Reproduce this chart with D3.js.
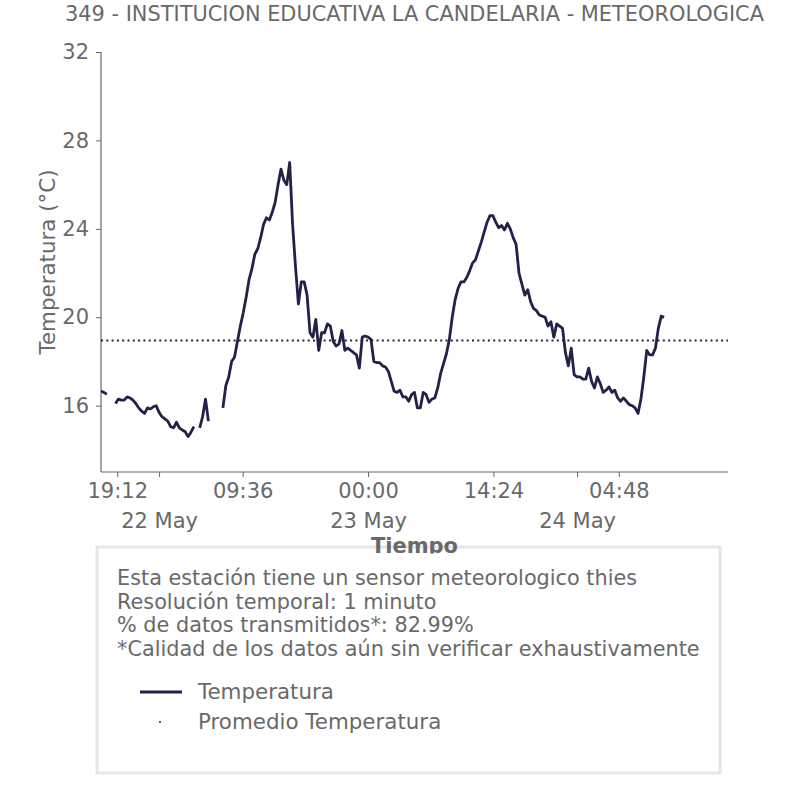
<!DOCTYPE html>
<html>
<head>
<meta charset="utf-8">
<script src="https://cdn.jsdelivr.net/npm/d3@7"></script>
<style>
  body { margin: 0; background: #fff; }
  text { font-family: "DejaVu Sans", sans-serif; fill: #696969; }
</style>
</head>
<body>
<svg class="chart"></svg>
<script>
// datos de la estacion (lectura cada 20 minutos, null = sin dato)
const titulo = "349 - INSTITUCION EDUCATIVA LA CANDELARIA - METEOROLOGICA";
const inicio = "2023-05-21T17:20";
const fin = "2023-05-24T17:20";
const pasoMin = 20;
const temperatura = [
  16.67, 16.6, 16.52, null, null, 16.1, 16.3, 16.25, 16.25, 16.4,
  16.35, 16.25, 16.1, 15.9, 15.75, 15.65, 15.9, 15.85, 15.95, 16.0,
  15.7, 15.5, 15.4, 15.3, 15.05, 15.0, 15.25, 15.0, 14.9, 14.82,
  14.6, 14.8, 15.05, null, 15.0, 15.5, 16.3, 15.3, null, null,
  null, null, 15.9, 16.9, 17.3, 18.0, 18.2, 18.9, 19.6, 20.2,
  20.9, 21.7, 22.2, 22.85, 23.1, 23.6, 24.2, 24.5, 24.4, 24.75,
  25.2, 26.0, 26.7, 26.2, 26.0, 27.0, 24.2, 22.3, 20.6, 21.6,
  21.6, 21.0, 19.3, 19.1, 19.9, 18.5, 19.3, 19.3, 19.7, 19.6,
  18.9, 18.7, 18.8, 19.4, 18.5, 18.6, 18.5, 18.4, 18.3, 17.7,
  19.1, 19.15, 19.1, 19.0, 18.0, 17.95, 17.95, 17.8, 17.75, 17.55,
  17.1, 16.65, 16.6, 16.7, 16.4, 16.4, 16.2, 16.5, 16.6, 15.9,
  15.9, 16.6, 16.5, 16.15, 16.3, 16.35, 16.8, 17.45, 17.9, 18.35,
  19.0, 20.0, 20.8, 21.3, 21.6, 21.6, 21.8, 22.1, 22.45, 22.6,
  23.0, 23.4, 23.85, 24.3, 24.6, 24.6, 24.3, 24.05, 24.15, 23.95,
  24.25, 24.0, 23.6, 23.3, 22.0, 21.5, 21.0, 21.25, 20.7, 20.4,
  20.3, 20.1, 20.05, 20.0, 19.6, 19.8, 19.1, 19.7, 19.6, 19.5,
  18.4, 17.8, 18.6, 17.4, 17.3, 17.3, 17.2, 17.2, 17.7, 17.1,
  16.8, 17.3, 17.0, 16.6, 16.7, 16.85, 16.6, 16.7, 16.35, 16.2,
  16.35, 16.2, 16.05, 16.0, 15.9, 15.65, 16.3, 17.3, 18.5, 18.3,
  18.3, 18.6, 19.5, 20.05, 20.0
];
const promedio = 18.95;
const ticksHora = ["2023-05-21T19:12", "2023-05-22T09:36", "2023-05-23T00:00",
                   "2023-05-23T14:24", "2023-05-24T04:48"];
const ticksDia = ["2023-05-22T00:00", "2023-05-23T00:00", "2023-05-24T00:00"];
const ticksTemp = [16, 20, 24, 28, 32];
const notas = [
  "Esta estación tiene un sensor meteorologico thies",
  "Resolución temporal: 1 minuto",
  "% de datos transmitidos*: 82.99%",
  "*Calidad de los datos aún sin verificar exhaustivamente"
];
const leyenda = ["Temperatura", "Promedio Temperatura"];

const W = 806, H = 806;
const margin = { top: 52, left: 101, right: 78, bottom: 334 };
const width = W - margin.left - margin.right,
      height = H - margin.top - margin.bottom;
const colorLinea = "#222249";
const gris = "#696969";

const parse = d3.utcParse("%Y-%m-%dT%H:%M");
const t0 = parse(inicio);
const datos = temperatura.map((v, i) => ({ t: d3.utcMinute.offset(t0, i * pasoMin), v: v }));

const svg = d3.select(".chart").attr("width", W).attr("height", H);

const x = d3.scaleUtc().domain([t0, parse(fin)]).range([0, width]);
const y = d3.scaleLinear().domain([13, 32]).range([height, 0]);

svg.append("text")
  .attr("x", margin.left + width / 2).attr("y", 21)
  .attr("text-anchor", "middle")
  .style("font-size", "20.9px")
  .text(titulo);

const g = svg.append("g").attr("transform", `translate(${margin.left},${margin.top})`);

// ejes
const yAxis = g.append("g")
  .call(d3.axisLeft(y).tickValues(ticksTemp).tickSize(5).tickPadding(7).tickFormat(d3.format("d")));
const xAxis = g.append("g").attr("transform", `translate(0,${height})`)
  .call(d3.axisBottom(x).tickValues(ticksHora.map(parse)).tickSize(5).tickPadding(6)
    .tickFormat(d3.utcFormat("%H:%M")));
const xDias = g.append("g").attr("transform", `translate(0,${height})`)
  .call(d3.axisBottom(x).tickValues(ticksDia.map(parse)).tickSize(5).tickPadding(36)
    .tickFormat(d3.utcFormat("%d %b")));
xDias.select(".domain").remove();

[yAxis, xAxis, xDias].forEach(a => {
  a.selectAll("text").style("font-size", "21px").attr("fill", gris).style("font-family", "DejaVu Sans");
  a.selectAll("line").attr("stroke", gris);
  a.select(".domain").attr("stroke", gris).attr("stroke-width", 1.2);
});
yAxis.select(".domain").attr("d", `M0,0V${height}`);
xAxis.select(".domain").attr("d", `M0,0H${width}`);

// promedio
g.append("line")
  .attr("x1", 0).attr("x2", width)
  .attr("y1", y(promedio)).attr("y2", y(promedio))
  .attr("stroke", colorLinea).attr("stroke-width", 2)
  .attr("stroke-dasharray", "2,3.3");

// temperatura
const line = d3.line()
  .defined(d => d.v != null)
  .x(d => x(d.t)).y(d => y(d.v));
g.append("path").datum(datos)
  .attr("fill", "none").attr("stroke", colorLinea)
  .attr("stroke-width", 2.8).attr("stroke-linejoin", "round")
  .attr("d", line);

// titulos de ejes
svg.append("text")
  .attr("transform", `translate(47,${margin.top + height / 2}) rotate(-90)`)
  .attr("text-anchor", "middle").attr("dy", "0.35em")
  .style("font-size", "21.4px")
  .text("Temperatura (°C)");

// caja de notas y leyenda
svg.append("rect")
  .attr("x", 97).attr("y", 547).attr("width", 623).attr("height", 226)
  .attr("fill", "#fff").attr("stroke", "#e6e6e6").attr("stroke-width", 3);

svg.append("clipPath").attr("id", "corte")
  .append("rect").attr("x", 0).attr("y", 0).attr("width", W).attr("height", 553.5);
svg.append("text")
  .attr("clip-path", "url(#corte)")
  .attr("x", margin.left + width / 2).attr("y", 553)
  .attr("text-anchor", "middle")
  .style("font-size", "21px").style("font-weight", "bold")
  .text("Tiempo");

svg.selectAll(".nota").data(notas).enter().append("text")
  .attr("class", "nota")
  .attr("x", 117).attr("y", (d, i) => 585 + i * 23.5)
  .style("font-size", "20.8px")
  .text(d => d);

const ley = svg.append("g");
ley.append("line").attr("x1", 140).attr("x2", 182).attr("y1", 692).attr("y2", 692)
  .attr("stroke", colorLinea).attr("stroke-width", 2.8);
ley.append("circle").attr("cx", 160).attr("cy", 722).attr("r", 1)
  .attr("fill", colorLinea);
ley.selectAll(".ley").data(leyenda).enter().append("text")
  .attr("class", "ley")
  .attr("x", 198).attr("y", (d, i) => 699 + i * 30)
  .style("font-size", "21.4px")
  .text(d => d);
</script>
</body>
</html>
